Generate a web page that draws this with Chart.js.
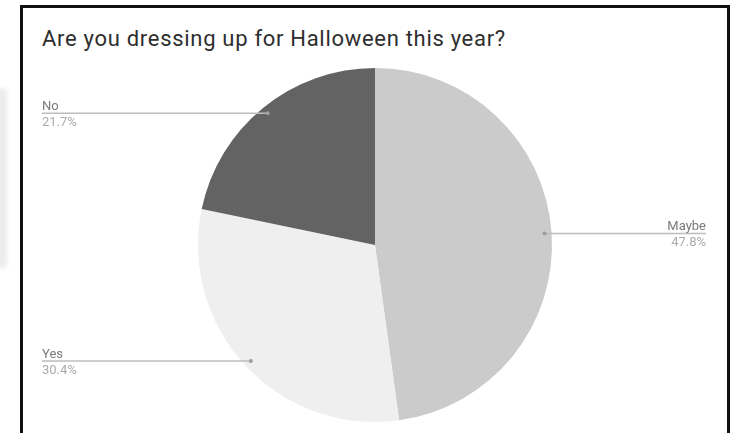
<!DOCTYPE html>
<html>
<head>
<meta charset="utf-8">
<script src="https://cdn.jsdelivr.net/npm/chart.js@4/dist/chart.umd.min.js"></script>
<style>
  html, body { margin: 0; padding: 0; background: #fff; }
  #wrap { position: relative; width: 739px; height: 433px; overflow: hidden; }
  #frame { position: absolute; left: 20px; top: 5px; width: 704px; height: 440px; border: 3px solid #111; }
  #side { position: absolute; left: -4px; top: 88px; width: 11px; height: 180px; background: #ececec; border-radius: 4px; filter: blur(2px); }
  #titulo { position: absolute; left: 42px; top: 26px; font: 22px Roboto, sans-serif; letter-spacing: 0.7px; color: #2e2e2e; white-space: nowrap; }
  canvas { position: absolute; left: 0; top: 0; }
</style>
</head>
<body>
<div id="wrap">
  <div id="side"></div>
  <div id="frame"></div>
  <div id="titulo">Are you dressing up for Halloween this year?</div>
  <canvas id="grafico" width="739" height="433"></canvas>
</div>
<script>
// Datos de la encuesta
const categorias = ['Maybe', 'Yes', 'No'];
const respuestas = [11, 7, 5];
const colores = ['#cbcbcb', '#efefef', '#636363'];

// Etiquetas con línea guía, estilo Google Forms
const etiquetas = {
  id: 'etiquetas',
  afterDraw(chart) {
    const ctx = chart.ctx;
    const meta = chart.getDatasetMeta(0);
    const total = respuestas.reduce((a, b) => a + b, 0);
    meta.data.forEach((arc, i) => {
      const p = arc.getProps(['x', 'y', 'startAngle', 'endAngle', 'outerRadius'], true);
      const mid = (p.startAngle + p.endAngle) / 2;
      const px = p.x + Math.cos(mid) * p.outerRadius * 0.96;
      const py = p.y + Math.sin(mid) * p.outerRadius * 0.96;
      const derecha = Math.cos(mid) > 0;
      const xFin = derecha ? 706 : 42;

      ctx.save();
      ctx.strokeStyle = '#bdbdbd';
      ctx.lineWidth = 1.5;
      ctx.beginPath();
      ctx.moveTo(px, py);
      ctx.lineTo(xFin, py);
      ctx.stroke();
      ctx.fillStyle = '#9e9e9e';
      ctx.beginPath();
      ctx.arc(px, py, 2, 0, Math.PI * 2);
      ctx.fill();

      ctx.font = '13px Roboto, sans-serif';
      ctx.textAlign = derecha ? 'right' : 'left';
      ctx.textBaseline = 'alphabetic';
      ctx.fillStyle = '#7a7a7a';
      ctx.fillText(categorias[i], xFin, py - 3);
      ctx.fillStyle = '#ababab';
      ctx.textBaseline = 'top';
      const pct = (respuestas[i] / total * 100).toFixed(1) + '%';
      ctx.fillText(pct, xFin, py + 3);
      ctx.restore();
    });
  }
};

const ctx = document.getElementById('grafico').getContext('2d');
const grafico = new Chart(ctx, {
  type: 'pie',
  data: {
    labels: categorias,
    datasets: [{
      data: respuestas,
      backgroundColor: colores,
      borderWidth: 0
    }]
  },
  options: {
    responsive: false,
    animation: false,
    layout: { padding: { left: 198, right: 187, top: 68, bottom: 11 } },
    plugins: {
      legend: { display: false },
      tooltip: { enabled: false }
    }
  },
  plugins: [etiquetas]
});
</script>
</body>
</html>
